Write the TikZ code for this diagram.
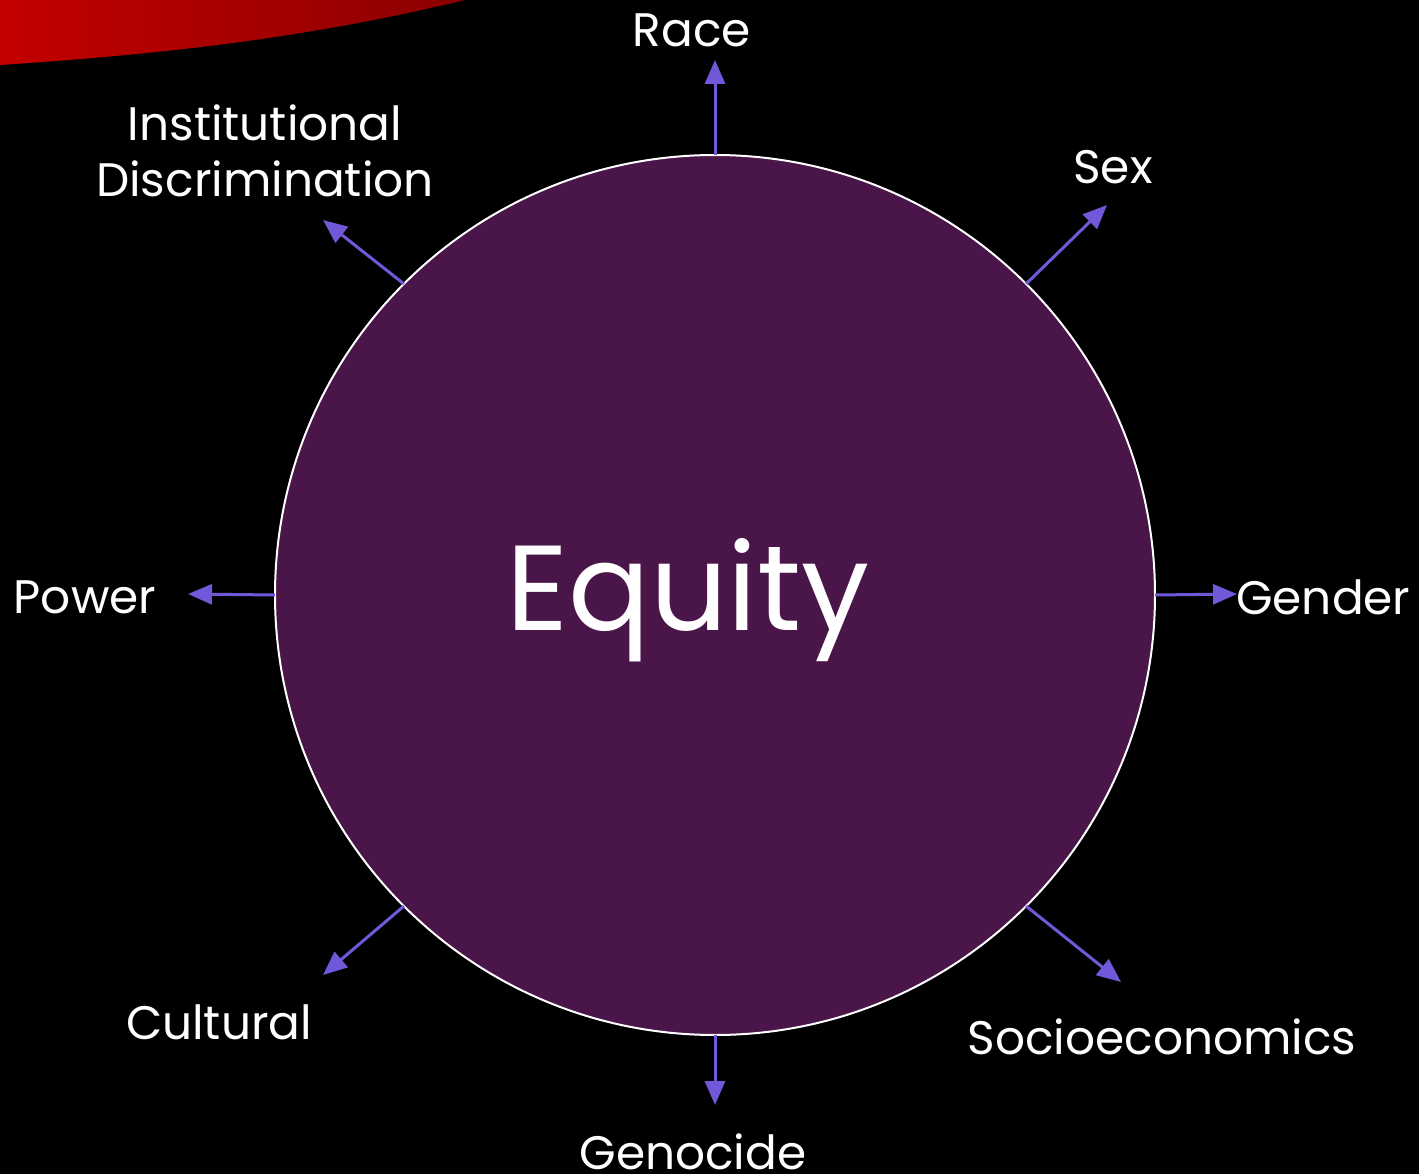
\documentclass[tikz,border=0pt]{standalone}
\usepackage{fontspec}
\setmainfont{Poppins}
\usetikzlibrary{arrows.meta}
\definecolor{bgblack}{RGB}{0,0,0}
\definecolor{eqfill}{RGB}{74,21,72}
\definecolor{arrowc}{RGB}{112,88,216}
\definecolor{redA}{RGB}{195,0,0}
\definecolor{redB}{RGB}{140,0,0}
\tikzset{
  conn/.style={draw=arrowc, line width=3pt, -{Triangle[length=24pt,width=20pt]}},
  lbl/.style={text=white, font=\fontsize{47}{56}\selectfont, inner sep=0pt, align=center},
}
\begin{document}
\begin{tikzpicture}[x=1pt,y=-1pt]
\fill[bgblack] (0,0) rectangle (1419,1174);
\useasboundingbox (0,0) rectangle (1419,1174);
% red swoosh
\shade[left color=redA, right color=redB] (0,0) -- (465,0) .. controls (300,40) and (150,55) .. (0,65) -- cycle;
% circle
\node[circle, fill=eqfill, draw=white, line width=2pt, minimum size=880pt, inner sep=0pt, outer sep=0pt] (eq) at (715,595) {};
\node[text=white, font=\fontsize{121}{135}\selectfont, inner sep=0pt] (eqt) at (688,600) {Equity};
% labels
\node[lbl] (race) at (692,30) {Race};
\node[lbl] (sex) at (1113,167) {Sex};
\node[lbl, anchor=west] (gender) at (1236,597) {Gender};
\node[lbl] (socio) at (1162,1037) {Socioeconomics};
\node[lbl] (geno) at (693,1152) {Genocide};
\node[lbl] (cult) at (219,1022) {Cultural};
\node[lbl] (power) at (85,597) {Power};
\node[lbl] (inst) at (265,151) {Institutional\\Discrimination};
% arrow ends
\coordinate (eRace) at (715,60);
\coordinate (eSex) at (1107,205);
\coordinate (eGender) at (1237,594);
\coordinate (eSocio) at (1121,982);
\coordinate (eGeno) at (715,1105);
\coordinate (eCult) at (323,975);
\coordinate (ePower) at (188,594);
\coordinate (eInst) at (323,220);
% connectors
\draw[conn] (eq.90) -- (eRace);
\draw[conn] (eq.45) -- (eSex);
\draw[conn] (eq.0) -- (eGender);
\draw[conn] (eq.-45) -- (eSocio);
\draw[conn] (eq.-90) -- (eGeno);
\draw[conn] (eq.-135) -- (eCult);
\draw[conn] (eq.180) -- (ePower);
\draw[conn] (eq.135) -- (eInst);
\end{tikzpicture}
\end{document}
